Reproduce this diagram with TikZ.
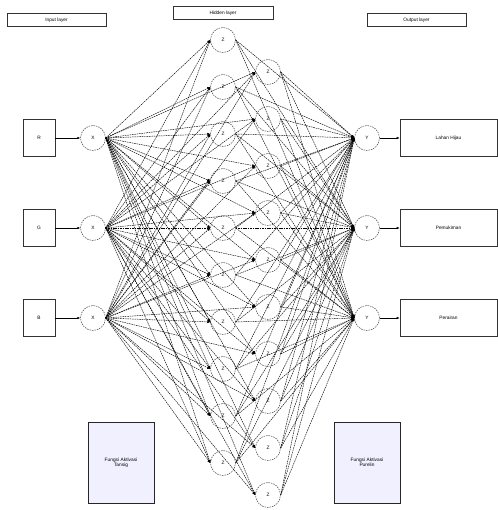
\documentclass[tikz,border=0pt]{standalone}
\usepackage{fontspec}
\setmainfont{Liberation Sans}
\usetikzlibrary{arrows.meta}
\begin{document}
\begin{tikzpicture}[x=1pt,y=-1pt,
  font=\fontsize{4.8}{5.4}\selectfont,
  neuron/.style={circle,draw=black!80,dashed,dash pattern=on 1.5pt off 1pt,line width=0.45pt,minimum size=25pt,inner sep=0pt},
  inbox/.style={rectangle,draw=black!80,line width=0.6pt,minimum width=32pt,minimum height=37pt,inner sep=0pt},
  outbox/.style={rectangle,draw=black!80,line width=0.6pt,minimum width=97pt,minimum height=37pt,inner sep=0pt},
  headbox/.style={rectangle,draw=black!80,line width=0.6pt,minimum width=99pt,minimum height=13pt,inner sep=0pt},
  actbox/.style={rectangle,draw=black!85,line width=0.9pt,fill=blue!6!white,minimum width=66pt,minimum height=81pt,inner sep=1pt,align=center,text width=60pt},
  conn/.style={draw=black,line width=0.45pt,dash pattern=on 1.6pt off 0.8pt,-{Latex[length=3pt,width=2.8pt]}},
  solidarr/.style={draw=black,line width=0.6pt,-{Latex[length=3pt,width=2.6pt]}}
]
\useasboundingbox (0,0) rectangle (497,510);
% headers
\node[headbox] (hin) at (56.5,20) {Input layer};
\node[headbox,minimum width=100pt] (hhid) at (223,13) {Hidden layer};
\node[headbox] (hout) at (416.5,20) {Output layer};
% input boxes
\node[inbox] (b1) at (39,138) {R};
\node[inbox] (b2) at (39,228) {G};
\node[inbox] (b3) at (39,318) {B};
% input neurons
\node[neuron] (x1) at (93,138) {X};
\node[neuron] (x2) at (93,228) {X};
\node[neuron] (x3) at (93,318) {X};
% output neurons
\node[neuron] (y1) at (367,138) {Y};
\node[neuron] (y2) at (367,228) {Y};
\node[neuron] (y3) at (367,318) {Y};
% output boxes
\node[outbox] (o1) at (448.5,138) {Lahan Hijau};
\node[outbox] (o2) at (448.5,228) {Pemukiman};
\node[outbox] (o3) at (448.5,318) {Perairan};
% hidden neurons
\foreach \k in {0,...,9}{
  \node[neuron] (zA\k) at (223,{40+47*\k}) {Z};
  \node[neuron] (zB\k) at (268,{72+47*\k}) {Z};
}
% activation boxes
\node[actbox] (t1) at (121,462.5) {Fungsi Aktivasi\\Tansig};
\node[actbox] (t2) at (367,462.5) {Fungsi Aktivasi\\Purelin};
% box to input neuron
\foreach \i in {1,2,3}{
  \draw[solidarr] (b\i.east) -- (x\i.west);
  \draw[solidarr] (y\i.east) -- (o\i.west);
}
% connections
\foreach \i in {1,2,3}{
  \foreach \k in {0,...,9}{
    \draw[conn] (x\i.east) -- (zA\k.west);
    \draw[conn] (x\i.east) -- (zB\k.west);
    \draw[conn] (zA\k.east) -- (y\i.west);
    \draw[conn] (zB\k.east) -- (y\i.west);
  }
}
\end{tikzpicture}
\end{document}
